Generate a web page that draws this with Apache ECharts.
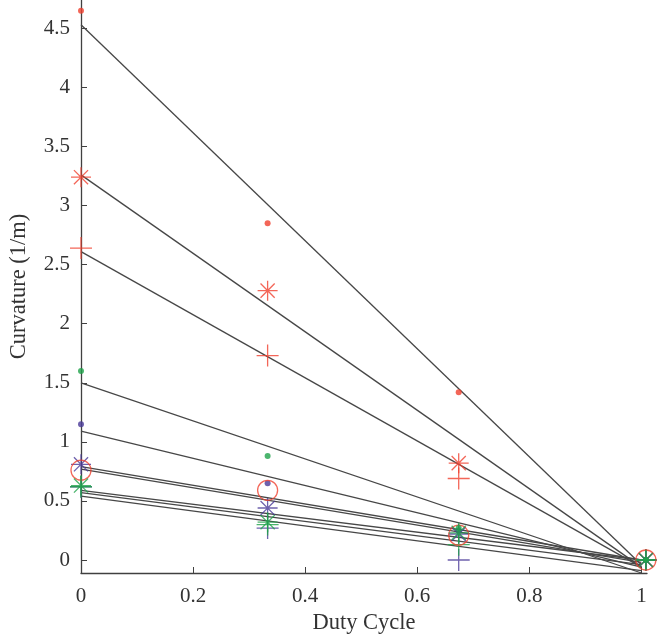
<!DOCTYPE html>
<html>
<head>
<meta charset="utf-8">
<script src="https://cdn.jsdelivr.net/npm/echarts@6/dist/echarts.min.js"></script>
<style>html,body{margin:0;padding:0;background:#fff}#c{width:664px;height:643px}</style>
</head>
<body>
<div id="c"></div>
<script>
// Duty cycle positions of the measurements
const dutyCycle = [0, 0.333, 0.674, 1.008];
// Measured curvature (1/m)
const redDot    = [4.65, 2.85, 1.42, 0];
const redStar   = [3.24, 2.28, 0.82, 0];
const redPlus   = [2.64, 1.73, 0.69, 0];
const redCircle = [0.76, 0.59, 0.21, 0];
const greenDot  = [1.60, 0.88, 0.27, 0];
const greenStar = [0.63, 0.32, 0.23, 0];
const greenPlus = [0.62, 0.30, 0.13, 0];
const blueDot   = [1.15, 0.65, 0.25, 0];
const blueStar  = [0.81, 0.44, 0.22, 0];
const bluePlus  = [0.62, 0.27, 0.00, 0];
// Fitted lines: value at duty cycle 0 and at duty cycle 1
const fitX     = [0, 1];
const fitStart = [4.53, 3.26, 2.61, 1.50, 1.09, 0.79, 0.77, 0.59, 0.57, 0.54];
const fitEnd   = [-0.04, -0.06, -0.06, -0.11, -0.06, 0.00, -0.02, 0.00, -0.04, -0.09];
// Tick labels
const xTicks = [0, 0.2, 0.4, 0.6, 0.8, 1];
const yTicks = [0, 0.5, 1, 1.5, 2, 2.5, 3, 3.5, 4, 4.5];

const RED = '#f0402e', GREEN = '#1fa34a', BLUE = '#4a3a98';
const STAR = 'path://M0,-10L0,10M-10,0L10,0M-7.07,-7.07L7.07,7.07M-7.07,7.07L7.07,-7.07';
const PLUS = 'path://M0,-10L0,10M-10,0L10,0';
const font = 'Liberation Serif';

function pts(arr){ return dutyCycle.map((x,i)=>[x, arr[i]]); }
function markers(arr, color, kind){
  const s = {type:'scatter', data: pts(arr), z: 5, silent:true, symbolKeepAspect:true};
  if(kind==='dot'){ s.symbol='circle'; s.symbolSize=6; s.itemStyle={color:color}; }
  if(kind==='circle'){ s.symbol='circle'; s.symbolSize=20; s.itemStyle={color:'none', borderColor:color, borderWidth:1.3}; }
  if(kind==='star'){ s.symbol=STAR; s.symbolSize=20; s.itemStyle={color:'none', borderColor:color, borderWidth:1.3}; }
  if(kind==='plus'){ s.symbol=PLUS; s.symbolSize=22; s.itemStyle={color:'none', borderColor:color, borderWidth:1.3}; }
  return s;
}

const series = [];
fitStart.forEach((v,i)=>{
  series.push({type:'line', data:[[fitX[0], v],[fitX[1], fitEnd[i]]], symbol:'none', silent:true, z:3,
    lineStyle:{color:'#474747', width:1.3}});
});
series.push(markers(redDot, RED, 'dot'));
series.push(markers(redStar, RED, 'star'));
series.push(markers(redPlus, RED, 'plus'));
series.push(markers(bluePlus, BLUE, 'plus'));
series.push(markers(blueStar, BLUE, 'star'));
series.push(markers(blueDot, BLUE, 'dot'));
series.push(markers(greenPlus, GREEN, 'plus'));
series.push(markers(redCircle, RED, 'circle'));
series.push(markers(greenStar, GREEN, 'star'));
series.push(markers(greenDot, GREEN, 'dot'));

const chart = echarts.init(document.getElementById('c'));
chart.setOption({
  animation:false,
  backgroundColor:'#fff',
  grid:{left:81, right:17, top:0, bottom:70, containLabel:false},
  xAxis:{type:'value', min:0, max:1.01,
    name:'Duty Cycle', nameLocation:'middle', nameGap:37,
    nameTextStyle:{fontFamily:font, fontSize:22.5, color:'#333'},
    axisLine:{onZero:false, lineStyle:{color:'#404040', width:1.3}},
    axisTick:{inside:true, length:6, customValues:xTicks, lineStyle:{color:'#404040'}},
    axisLabel:{customValues:xTicks, margin:13, fontFamily:font, fontSize:21, color:'#333'},
    splitLine:{show:false}},
  yAxis:{type:'value', min:-0.11, max:4.74,
    name:'Curvature (1/m)', nameLocation:'middle', nameGap:50, nameRotate:90,
    nameTextStyle:{fontFamily:font, fontSize:22.5, color:'#333'},
    axisLine:{onZero:false, lineStyle:{color:'#404040', width:1.3}},
    axisTick:{inside:true, length:6, customValues:yTicks, lineStyle:{color:'#404040'}},
    axisLabel:{customValues:yTicks, margin:11, fontFamily:font, fontSize:21, color:'#333'},
    splitLine:{show:false}},
  series: series
});
</script>
</body>
</html>
